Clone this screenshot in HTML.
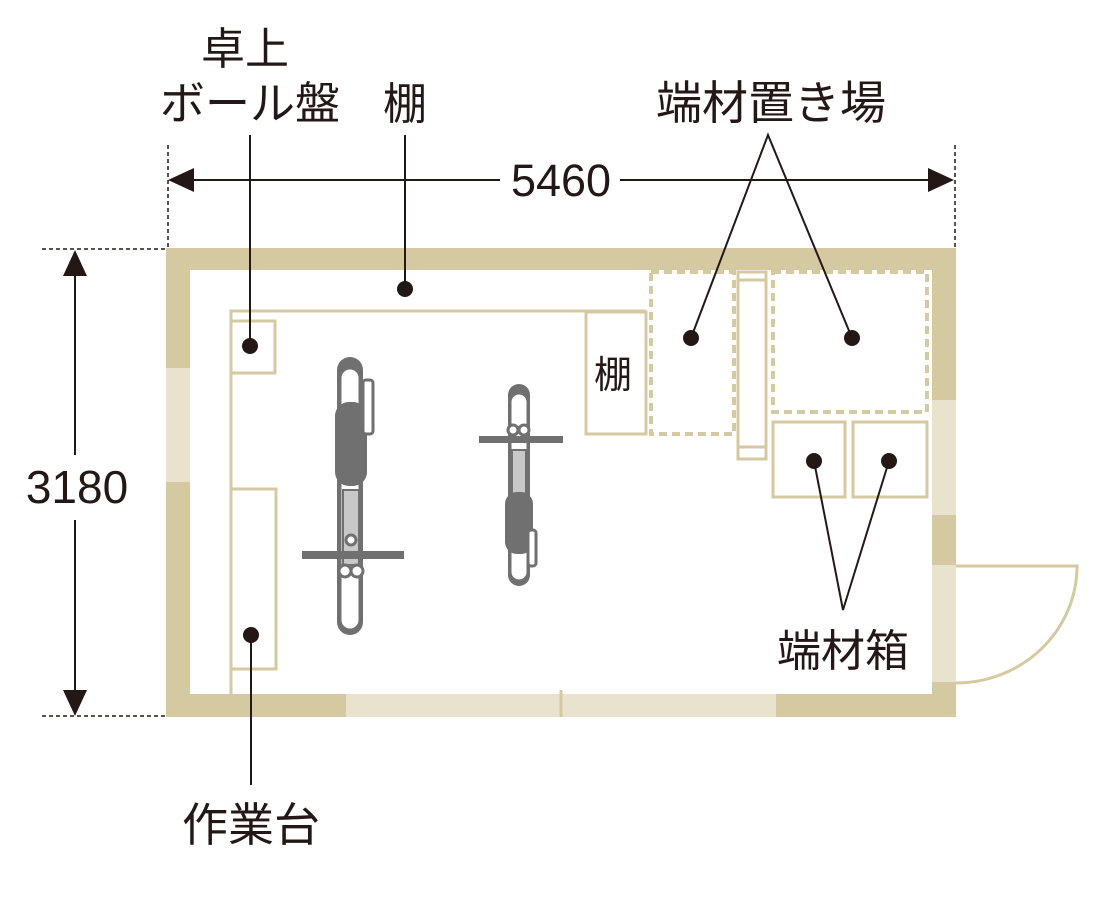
<!DOCTYPE html><html><head><meta charset="utf-8"><style>
html,body{margin:0;padding:0;background:#fff;width:1108px;height:897px;overflow:hidden}
text{font-family:"Liberation Sans","Noto Sans CJK JP",sans-serif;fill:#231815}
</style></head><body>
<svg width="1108" height="897" viewBox="0 0 1108 897" xmlns="http://www.w3.org/2000/svg">
<rect x="166" y="248" width="790" height="469" fill="#d4c9a0"/>
<rect x="190" y="270" width="742" height="424" fill="#fff"/>
<rect x="166" y="368" width="24" height="114" fill="#e9e2cc"/>
<rect x="346" y="694" width="430" height="23" fill="#e9e2cc"/>
<line x1="561" y1="690" x2="561" y2="717" stroke="#d4c9a0" stroke-width="3"/>
<rect x="932" y="400" width="24" height="115" fill="#e9e2cc"/>
<rect x="932" y="565" width="24" height="117" fill="#e9e2cc"/>
<path d="M956 566 H1077 A121 117 0 0 1 956 683" fill="none" stroke="#d4c9a0" stroke-width="3"/>
<g fill="none" stroke="#d4c9a0" stroke-width="3">
<path d="M231 694 V311 H646"/>
<rect x="231" y="321" width="44" height="52"/>
<rect x="231" y="489" width="45" height="180"/>
<rect x="586" y="312" width="60" height="122"/>
<rect x="738" y="272" width="28" height="187"/>
<line x1="738" y1="280" x2="766" y2="280"/><line x1="738" y1="447" x2="766" y2="447"/>
<rect x="773" y="422" width="72" height="75"/>
<rect x="853" y="422" width="74" height="75"/>
<g stroke-dasharray="8 5" stroke-width="4">
<rect x="651" y="272" width="83" height="162"/>
<rect x="773" y="272" width="154" height="140"/>
</g>
</g>
<g>
<rect x="337" y="357" width="26" height="278" rx="13" fill="#707070"/>
<rect x="340" y="368" width="20" height="262" rx="10" fill="#fff" stroke="#707070" stroke-width="3"/>
<rect x="343" y="490" width="16" height="75" fill="#c8c8c8" stroke="#707070" stroke-width="2"/>
<rect x="335" y="402" width="32" height="84" rx="14" fill="#707070"/>
<rect x="363" y="380" width="10" height="54" rx="3" fill="#fff" stroke="#707070" stroke-width="3"/>
<rect x="302" y="551" width="102" height="8" fill="#707070"/>
<circle cx="345" cy="571" r="6" fill="#fff" stroke="#707070" stroke-width="3"/>
<circle cx="357" cy="571" r="6" fill="#fff" stroke="#707070" stroke-width="3"/>
<circle cx="351" cy="540" r="5" fill="#fff" stroke="#707070" stroke-width="3"/>
</g>
<g>
<rect x="508" y="384" width="22" height="202" rx="11" fill="#707070"/>
<rect x="510" y="393" width="18" height="188" rx="9" fill="#fff" stroke="#707070" stroke-width="3"/>
<rect x="512" y="450" width="14" height="50" fill="#c8c8c8" stroke="#707070" stroke-width="2"/>
<rect x="505" y="492" width="28" height="62" rx="12" fill="#707070"/>
<rect x="528" y="530" width="8" height="36" rx="3" fill="#fff" stroke="#707070" stroke-width="3"/>
<rect x="479" y="436" width="84" height="7" fill="#707070"/>
<circle cx="513" cy="430" r="5" fill="#fff" stroke="#707070" stroke-width="3"/>
<circle cx="524" cy="430" r="5" fill="#fff" stroke="#707070" stroke-width="3"/>
</g>
<g stroke="#231815" stroke-width="2" fill="none">
<line x1="405" y1="135" x2="405" y2="289"/>
<line x1="250" y1="135" x2="250" y2="346"/>
<line x1="251" y1="635" x2="251" y2="785"/>
<path d="M691 338 L768 135 L852 338"/>
<path d="M814 461 L843 610 L889 461"/>
<line x1="186" y1="180" x2="500" y2="180"/>
<line x1="620" y1="180" x2="935" y2="180"/>
<line x1="75" y1="270" x2="75" y2="455"/>
<line x1="75" y1="520" x2="75" y2="695"/>
</g>
<g stroke="#231815" stroke-width="1.5" stroke-dasharray="4 3">
<line x1="168" y1="145" x2="168" y2="248"/>
<line x1="955" y1="145" x2="955" y2="248"/>
<line x1="42" y1="249" x2="166" y2="249"/>
<line x1="42" y1="716" x2="166" y2="716"/>
</g>
<g fill="#231815">
<path d="M168 180 L194 168 L194 192Z"/><path d="M954 180 L928 168 L928 192Z"/>
<path d="M75 250 L63 276 L87 276Z"/><path d="M75 716 L63 690 L87 690Z"/>
<circle cx="405" cy="289" r="8"/><circle cx="250" cy="346" r="8"/><circle cx="251" cy="635" r="8"/>
<circle cx="691" cy="338" r="8"/><circle cx="852" cy="338" r="8"/>
<circle cx="814" cy="461" r="8"/><circle cx="889" cy="461" r="8"/>
</g>
<g text-anchor="middle">
<text x="561" y="196" font-size="45">5460</text>
<text x="77" y="503" font-size="46">3180</text>
<text x="245" y="64" font-size="44">卓上</text>
<text x="250" y="119" font-size="45">ボール盤</text>
<text x="405" y="119" font-size="44">棚</text>
<text x="771" y="119" font-size="46">端材置き場</text>
<text x="251" y="841" font-size="46">作業台</text>
<text x="843" y="666" font-size="44">端材箱</text>
<text x="613" y="388" font-size="38">棚</text>
</g>
</svg>
</body></html>
